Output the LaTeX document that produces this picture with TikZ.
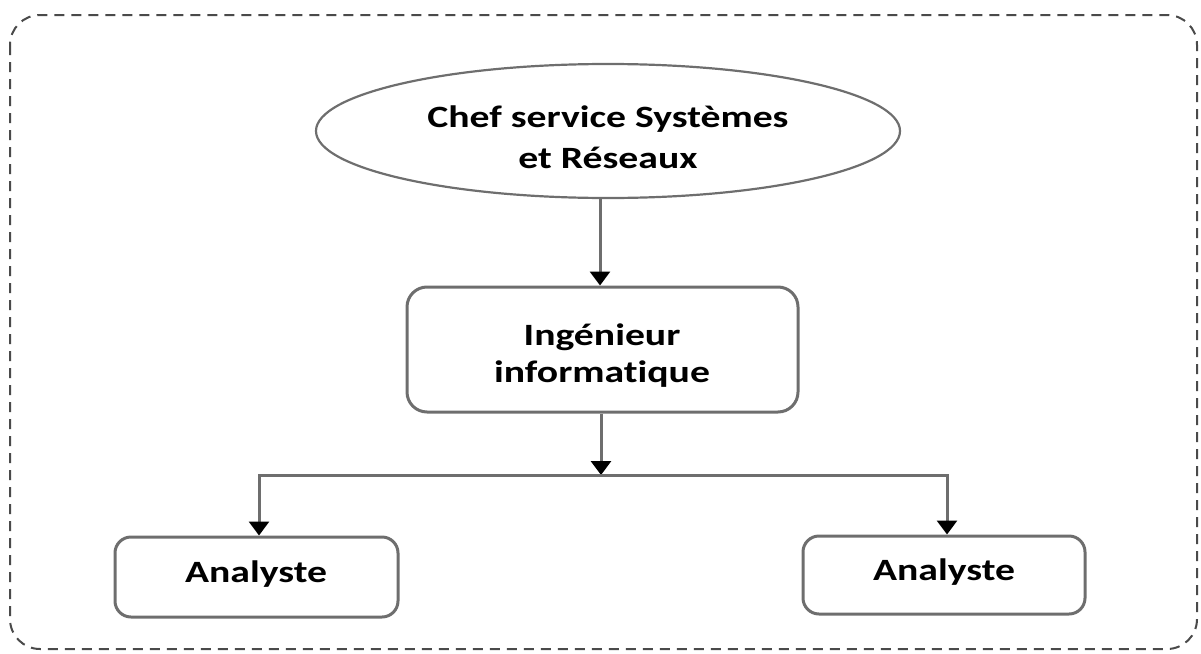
\documentclass[tikz,border=0pt]{standalone}
\usepackage{fontspec}
\setmainfont{Carlito}[Ligatures=NoCommon]
\newfontfamily\widebold{Carlito Bold}[FakeStretch=1.28, Ligatures=NoCommon]
\usetikzlibrary{shapes.geometric,arrows.meta}
\definecolor{linegray}{HTML}{6E6E6E}
\definecolor{framegray}{HTML}{4A4A4A}
\tikzset{
  boxtext/.style={font=\widebold\fontsize{31}{37}\selectfont, anchor=base, inner sep=0pt, text=black},
  ovalbox/.style={ellipse, draw=linegray, line width=2.2pt, inner sep=0pt},
  roundbox/.style={rectangle, rounded corners=20pt, draw=linegray, line width=3pt, inner sep=0pt},
  link/.style={draw=linegray, line width=3pt},
  linkarrow/.style={link, -{Triangle[length=14pt,width=20pt,fill=black,color=black]}},
}
\begin{document}
\begin{tikzpicture}[x=1pt,y=-1pt]
\useasboundingbox (0,0) rectangle (1201,653);
% dashed frame around the chart
\draw[framegray, line width=2pt, dash pattern=on 10pt off 7pt, rounded corners=30pt]
  (10,15) rectangle (1197,649);

% boxes
\node[ovalbox, minimum width=584pt, minimum height=134pt] (chef) at (608,131) {};
\node[roundbox, minimum width=391pt, minimum height=125pt] (ing) at (602.5,349.5) {};
\node[roundbox, rounded corners=16pt, minimum width=283pt, minimum height=80pt] (an1) at (256.5,577) {};
\node[roundbox, rounded corners=16pt, minimum width=282pt, minimum height=78pt] (an2) at (944,575) {};

% labels
\node[boxtext] (chefa) at (608,127) {Chef service Systèmes};
\node[boxtext] (chefb) at (608,168) {et Réseaux};
\node[boxtext] (inga) at (602,345) {Ingénieur};
\node[boxtext] (ingb) at (602,382) {informatique};
\node[boxtext] (an1t) at (256,582) {Analyste};
\node[boxtext] (an2t) at (944,580) {Analyste};

% connectors
\coordinate (top) at (600,197);
\coordinate (j) at (601,475);
\draw[linkarrow] (top) -- (top |- ing.north);
\draw[linkarrow] (j |- ing.south) -- (j);
\draw[linkarrow] (j) -| ([xshift=2.5pt]an1.north);
\draw[linkarrow] (j) -| ([xshift=3pt]an2.north);
\end{tikzpicture}
\end{document}
